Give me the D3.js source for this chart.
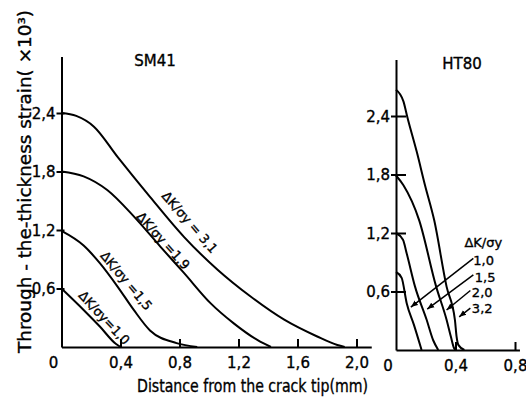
<!DOCTYPE html>
<html>
<head>
<meta charset="utf-8">
<script src="https://cdn.jsdelivr.net/npm/d3@7"></script>
<style>
  body { margin: 0; background: #fff; }
  text { font-family: "DejaVu Sans", sans-serif; fill: #000; stroke: #000; stroke-width: 0.35px; }
</style>
</head>
<body>
<script>
// SM41 curves: [distance mm, strain x10^-3]
var sm41_31 = [[0, 2.4], [0.1, 2.37], [0.22, 2.26], [0.38, 1.95], [0.6, 1.54], [0.83, 1.13],
  [1.06, 0.79], [1.28, 0.52], [1.51, 0.28], [1.73, 0.11], [1.87, 0.02], [1.92, 0]];
var sm41_19 = [[0, 1.8], [0.15, 1.75], [0.31, 1.61], [0.49, 1.34], [0.67, 1.03], [0.83, 0.76],
  [1.01, 0.45], [1.17, 0.24], [1.33, 0.07], [1.42, 0]];
var sm41_15 = [[0, 1.19], [0.15, 1.04], [0.26, 0.86], [0.38, 0.62], [0.49, 0.38], [0.6, 0.17],
  [0.78, 0.04], [0.92, 0]];
var sm41_10 = [[0, 0.6], [0.15, 0.38], [0.26, 0.21], [0.37, 0.03], [0.4, 0]];

// HT80 curves
var ht80_32 = [[0, 2.67], [0.05, 2.55], [0.076, 2.39], [0.14, 2.03], [0.195, 1.69], [0.257, 1.33],
  [0.34, 0.65], [0.396, 0.31], [0.407, 0.14], [0.42, 0.05], [0.46, 0]];
var ht80_20 = [[0, 1.79], [0.05, 1.69], [0.156, 1.33], [0.27, 0.65], [0.34, 0.31], [0.37, 0.13],
  [0.39, 0.02], [0.4, 0]];
var ht80_15 = [[0, 1.2], [0.047, 1.13], [0.072, 0.99], [0.128, 0.65], [0.206, 0.31], [0.25, 0.1],
  [0.284, 0]];
var ht80_10 = [[0, 0.8], [0.038, 0.74], [0.072, 0.48], [0.12, 0.26], [0.172, 0]];

var yTicks = [0.6, 1.2, 1.8, 2.4];
var leftXTicks = [0.4, 0.8, 1.2, 1.6, 2.0];
var rightXTicks = [0.4, 0.8];
var leftLabels = ["ΔK/σy = 3,1", "ΔK/σy =1,9", "ΔK/σy =1,5", "ΔK/σy=1,0"];
var rightLabels = ["1,0", "1,5", "2,0", "3,2"];

var width = 526;
var height = 398;

var svg = d3.select("body").append("svg")
  .attr("width", width)
  .attr("height", height);

svg.append("defs").append("marker")
  .attr("id", "arrow")
  .attr("viewBox", "0 0 10 10")
  .attr("refX", 10).attr("refY", 5)
  .attr("markerWidth", 7).attr("markerHeight", 7)
  .attr("markerUnits", "userSpaceOnUse")
  .attr("orient", "auto")
  .append("path").attr("d", "M0,1 L10,5 L0,9 Z").attr("fill", "#000");

var comma = function(d) { return d3.format(".1f")(d).replace(".", ","); };

// scales
var xL = d3.scaleLinear().domain([0, 2.1]).range([61.5, 61.5 + 2.1 * 147.5]);
var yL = d3.scaleLinear().domain([0, 2.98]).range([347, 347 - 2.98 * 97.5]);
var xR = d3.scaleLinear().domain([0, 0.83]).range([396, 396 + 0.83 * 148.75]);
var yR = d3.scaleLinear().domain([0, 2.98]).range([350, 350 - 2.98 * 97.5]);

function drawPanel(x, y, xTicks, inner, series) {
  var gx = svg.append("g")
    .attr("transform", "translate(0," + y(0) + ")")
    .call(d3.axisBottom(x).tickValues(xTicks).tickFormat(comma)
      .tickSizeInner(-8).tickSizeOuter(0).tickPadding(10));
  var gy = svg.append("g")
    .attr("transform", "translate(" + x(0) + ",0)")
    .call(d3.axisLeft(y).tickValues(yTicks).tickFormat(comma)
      .tickSizeInner(5).tickSizeOuter(0).tickPadding(1));
  gy.selectAll(".tick line").attr("x1", inner);
  [gx, gy].forEach(function(g) {
    g.selectAll("path, line").attr("stroke", "#000").attr("stroke-width", 2);
    g.selectAll("text").attr("font-family", "DejaVu Sans").attr("font-size", "15px").attr("fill", "#000");
  });
  gy.selectAll(".tick text").attr("dy", "0.34em");
  svg.append("text")
    .attr("x", x(0) - 8).attr("y", y(0) + 21)
    .attr("text-anchor", "middle").attr("font-size", "15px")
    .text("0");

  var line = d3.line()
    .x(function(d) { return x(d[0]); })
    .y(function(d) { return y(d[1]); })
    .curve(d3.curveMonotoneX);
  svg.selectAll(null).data(series).enter().append("path")
    .attr("d", line)
    .attr("fill", "none")
    .attr("stroke", "#000")
    .attr("stroke-width", 2);
}

drawPanel(xL, yL, leftXTicks, 3, [sm41_31, sm41_19, sm41_15, sm41_10]);
drawPanel(xR, yR, rightXTicks, 10, [ht80_32, ht80_20, ht80_15, ht80_10]);

// panel titles
svg.append("text").attr("x", 155).attr("y", 66).attr("text-anchor", "middle")
  .attr("font-size", "15px").text("SM41");
svg.append("text").attr("x", 462).attr("y", 69).attr("text-anchor", "middle")
  .attr("font-size", "15px").text("HT80");

// labels along SM41 curves
var leftPos = [[0.87, 1.28, 49, 77], [0.69, 1.09, 48, 72], [0.44, 0.68, 50, 72], [0.29, 0.3, 47, 68]];
svg.selectAll(null).data(leftLabels).enter().append("text")
  .attr("transform", function(d, i) {
    var p = leftPos[i];
    return "translate(" + xL(p[0]) + "," + yL(p[1]) + ") rotate(" + p[2] + ")";
  })
  .attr("text-anchor", "middle")
  .attr("dy", "0.35em")
  .attr("font-size", "13px")
  .attr("textLength", function(d, i) { return leftPos[i][3]; })
  .attr("lengthAdjust", "spacingAndGlyphs")
  .text(function(d) { return d; });

// HT80 legend with arrows
svg.append("text").attr("x", xR(0.46)).attr("y", yR(1.06))
  .attr("font-size", "13px").text("ΔK/σy");
var rightPos = [[0.52, 0.87, 0.52, 0.94, 0.10, 0.44],
  [0.53, 0.70, 0.52, 0.77, 0.21, 0.42],
  [0.51, 0.54, 0.50, 0.61, 0.34, 0.41],
  [0.51, 0.38, 0.50, 0.43, 0.425, 0.34]];
svg.selectAll(null).data(rightLabels).enter().append("text")
  .attr("x", function(d, i) { return xR(rightPos[i][0]); })
  .attr("y", function(d, i) { return yR(rightPos[i][1]); })
  .attr("font-size", "13px")
  .text(function(d) { return d; });
svg.selectAll(null).data(rightPos).enter().append("line")
  .attr("x1", function(d) { return xR(d[2]); })
  .attr("y1", function(d) { return yR(d[3]); })
  .attr("x2", function(d) { return xR(d[4]); })
  .attr("y2", function(d) { return yR(d[5]); })
  .attr("stroke", "#000")
  .attr("stroke-width", 1.5)
  .attr("marker-end", "url(#arrow)");

// axis titles
svg.append("text")
  .attr("transform", "translate(31,353) rotate(-90)")
  .attr("font-size", "17px")
  .attr("textLength", 343).attr("lengthAdjust", "spacingAndGlyphs")
  .text("Through - the-thickness strain( ×10³)");
svg.append("text")
  .attr("x", 137).attr("y", 392)
  .attr("font-size", "17px")
  .attr("textLength", 231).attr("lengthAdjust", "spacingAndGlyphs")
  .text("Distance from the crack tip(mm)");
</script>
</body>
</html>
